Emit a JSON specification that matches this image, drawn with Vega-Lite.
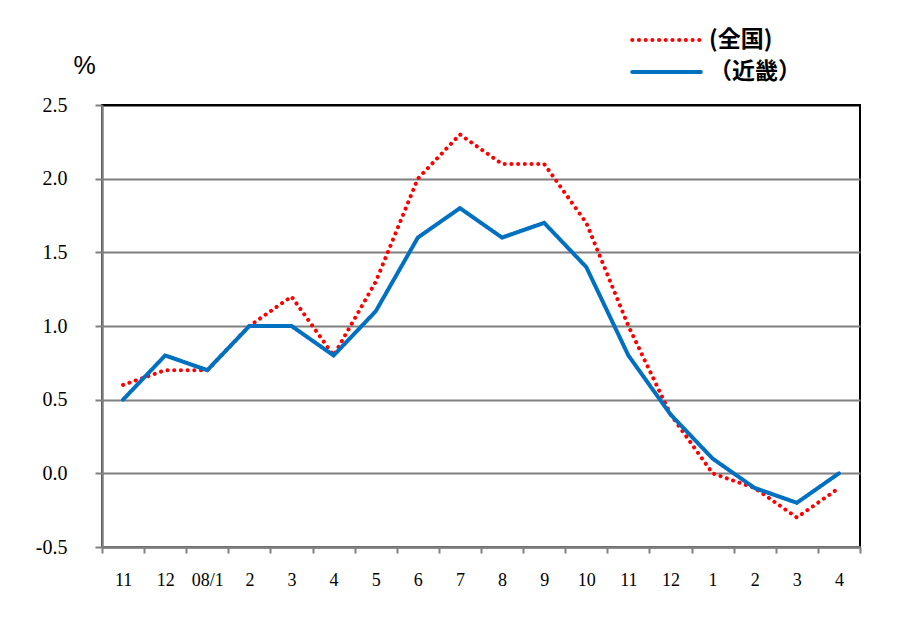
{
  "$schema": "https://vega.github.io/schema/vega-lite/v6.json",
  "width": 758,
  "height": 442,
  "autosize": "none",
  "padding": {"left": 102, "top": 105, "right": 38, "bottom": 70},
  "background": "white",
  "config": {
    "view": {"stroke": "black", "strokeWidth": 2},
    "font": "Liberation Serif"
  },
  "data": {
    "values": [
      {"m": 0, "series": "(全国)", "v": 0.6},
      {"m": 1, "series": "(全国)", "v": 0.7},
      {"m": 2, "series": "(全国)", "v": 0.7},
      {"m": 3, "series": "(全国)", "v": 1.0},
      {"m": 4, "series": "(全国)", "v": 1.2},
      {"m": 5, "series": "(全国)", "v": 0.8},
      {"m": 6, "series": "(全国)", "v": 1.3},
      {"m": 7, "series": "(全国)", "v": 2.0},
      {"m": 8, "series": "(全国)", "v": 2.3},
      {"m": 9, "series": "(全国)", "v": 2.1},
      {"m": 10, "series": "(全国)", "v": 2.1},
      {"m": 11, "series": "(全国)", "v": 1.7},
      {"m": 12, "series": "(全国)", "v": 1.0},
      {"m": 13, "series": "(全国)", "v": 0.4},
      {"m": 14, "series": "(全国)", "v": 0.0},
      {"m": 15, "series": "(全国)", "v": -0.1},
      {"m": 16, "series": "(全国)", "v": -0.3},
      {"m": 17, "series": "(全国)", "v": -0.1},
      {"m": 0, "series": "（近畿）", "v": 0.5},
      {"m": 1, "series": "（近畿）", "v": 0.8},
      {"m": 2, "series": "（近畿）", "v": 0.7},
      {"m": 3, "series": "（近畿）", "v": 1.0},
      {"m": 4, "series": "（近畿）", "v": 1.0},
      {"m": 5, "series": "（近畿）", "v": 0.8},
      {"m": 6, "series": "（近畿）", "v": 1.1},
      {"m": 7, "series": "（近畿）", "v": 1.6},
      {"m": 8, "series": "（近畿）", "v": 1.8},
      {"m": 9, "series": "（近畿）", "v": 1.6},
      {"m": 10, "series": "（近畿）", "v": 1.7},
      {"m": 11, "series": "（近畿）", "v": 1.4},
      {"m": 12, "series": "（近畿）", "v": 0.8},
      {"m": 13, "series": "（近畿）", "v": 0.4},
      {"m": 14, "series": "（近畿）", "v": 0.1},
      {"m": 15, "series": "（近畿）", "v": -0.1},
      {"m": 16, "series": "（近畿）", "v": -0.2},
      {"m": 17, "series": "（近畿）", "v": 0.0}
    ]
  },
  "mark": {"type": "line", "strokeWidth": 4, "strokeCap": "round", "strokeJoin": "miter"},
  "encoding": {
    "x": {
      "field": "m",
      "type": "ordinal",
      "scale": {"paddingInner": 0, "paddingOuter": 0},
      "axis": {
        "title": null,
        "labelAngle": 0,
        "labelExpr": "['11','12','08/1','2','3','4','5','6','7','8','9','10','11','12','1','2','3','4'][datum.value]",
        "tickBand": "extent",
        "tickSize": 6,
        "tickWidth": 2,
        "tickColor": "#7f7f7f",
        "domainColor": "#7f7f7f",
        "domainWidth": 2.5,
        "labelFont": "Liberation Serif",
        "labelFontSize": 18,
        "labelColor": "black",
        "labelPadding": 18,
        "grid": false
      }
    },
    "y": {
      "field": "v",
      "type": "quantitative",
      "scale": {"domain": [-0.5, 2.5], "nice": false, "zero": false},
      "axis": {
        "title": "%",
        "titleAngle": 0,
        "titleFont": "Liberation Sans",
        "titleFontSize": 25,
        "titleFontWeight": "normal",
        "titleAlign": "center",
        "titleBaseline": "middle",
        "titleX": -18,
        "titleY": -40,
        "values": [-0.5, 0, 0.5, 1, 1.5, 2, 2.5],
        "labelExpr": "replace(format(datum.value, '.1f'), '\u2212', '-')",
        "labelFont": "Liberation Serif",
        "labelFontSize": 20,
        "labelColor": "black",
        "labelPadding": 28,
        "tickSize": 7,
        "tickWidth": 2,
        "tickColor": "#7f7f7f",
        "domainColor": "#7f7f7f",
        "domainWidth": 2.5,
        "grid": true,
        "gridColor": {"condition": {"test": "datum.value == 2.5", "value": "black"}, "value": "#7f7f7f"},
        "gridWidth": 2
      }
    },
    "color": {
      "field": "series",
      "type": "nominal",
      "scale": {"domain": ["(全国)", "（近畿）"], "range": ["#ff0000", "#0070c0"]},
      "legend": {
        "title": null,
        "orient": "none",
        "legendX": 528,
        "legendY": -81,
        "symbolType": "stroke",
        "symbolSize": 4700,
        "symbolStrokeWidth": 4,
        "clipHeight": 32,
        "labelFont": "Noto Sans CJK JP",
        "labelFontSize": 23,
        "labelFontWeight": "bold",
        "labelColor": "black",
        "rowPadding": 0,
        "labelOffset": 6,
        "encode": {"symbols": {"update": {"strokeCap": {"value": "round"}}}}
      }
    },
    "strokeDash": {
      "field": "series",
      "type": "nominal",
      "scale": {"domain": ["(全国)", "（近畿）"], "range": [[0.1, 6.6], [1, 0]]},
      "legend": null
    }
  }
}
